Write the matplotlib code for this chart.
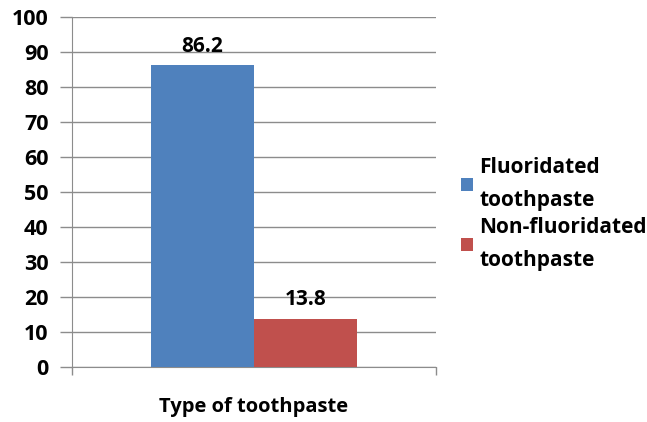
import matplotlib
matplotlib.use("Agg")
import matplotlib.pyplot as plt
import numpy as np

categories = ["Type of toothpaste"]
series_names = ["Fluoridated\ntoothpaste", "Non-fluoridated\ntoothpaste"]
values = [86.2, 13.8]
colors = ["#4F81BD", "#C0504D"]
yticks = [0, 10, 20, 30, 40, 50, 60, 70, 80, 90, 100]

plt.rcParams['font.family'] = ['Open Sans', 'DejaVu Sans']
fig = plt.figure(figsize=(6.47, 4.22), dpi=100)
ax = fig.add_axes([0.1113, 0.1303, 0.5626, 0.8294])

w = 0.283
offsets = [-w / 2, w / 2]
for name, v, c, off in zip(series_names, values, colors, offsets):
    ax.bar(0 + off, v, width=w, color=c, label=name, zorder=3)
    ax.text(0 + off, v + 2.5, f"{v}", ha='center', va='bottom', fontsize=15,
            fontweight='bold', zorder=4)

ax.set_xlim(-0.5, 0.5)
ax.set_ylim(0, 100)
ax.set_yticks(yticks)
ax.set_yticklabels([str(t) for t in yticks], fontsize=15.5, fontweight='bold')
ax.yaxis.grid(True, color='#8C8C8C', linewidth=1.0, zorder=0)
ax.tick_params(axis='y', length=9, color='#8C8C8C', pad=8, width=1.0)
ax.set_xticks([-0.5, 0.5])
ax.set_xticklabels(['', ''])
ax.tick_params(axis='x', length=6, color='#8C8C8C', width=1.0)
ax.set_xlabel(categories[0], fontsize=14.5, fontweight='bold', labelpad=12)

for s in ['top', 'right']:
    ax.spines[s].set_visible(False)
ax.spines['left'].set_color('#8C8C8C')
ax.spines['bottom'].set_color('#8C8C8C')

leg = ax.legend(loc='center left', bbox_to_anchor=(1.045, 0.437), frameon=False,
                prop={'size': 15, 'weight': 'bold'}, handlelength=0.6,
                handleheight=0.6, handletextpad=0.3, labelspacing=0.3,
                borderaxespad=0)
for t in leg.get_texts():
    t.set_linespacing(1.75)

fig.savefig("out.png", dpi=100)
